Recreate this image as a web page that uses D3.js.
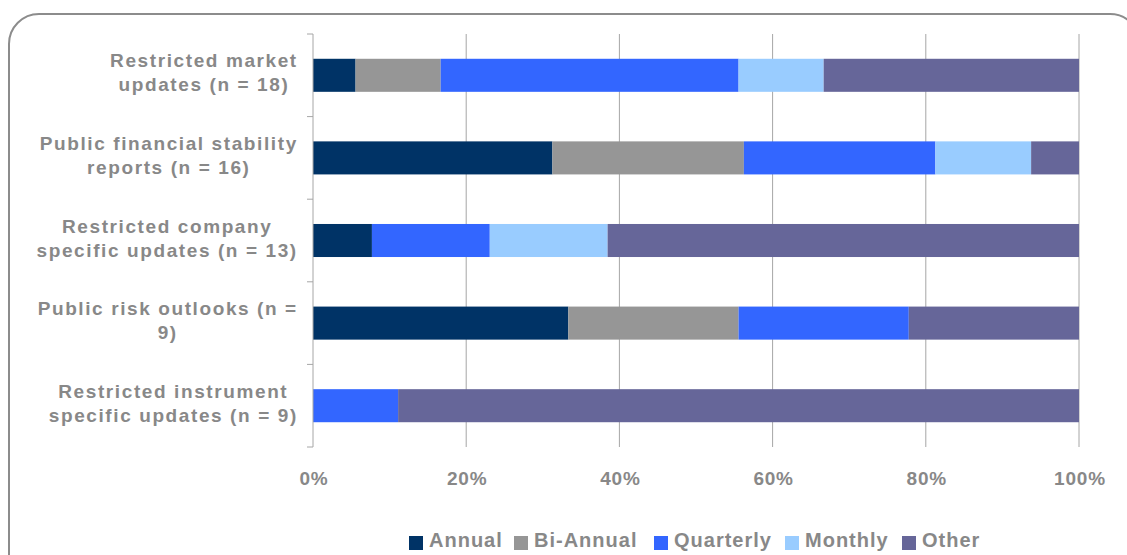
<!DOCTYPE html>
<html>
<head>
<meta charset="utf-8">
<script src="https://cdn.jsdelivr.net/npm/d3@7"></script>
<style>
  body { margin: 0; background: #fff; }
  svg { display: block; font-family: "Liberation Sans", Arial, sans-serif; }
</style>
</head>
<body>
<svg width="1127" height="555"></svg>
<script>
// survey counts per product, by frequency of publication
const categories = [
  ["Restricted market", "updates (n = 18)"],
  ["Public financial stability", "reports (n = 16)"],
  ["Restricted company", "specific updates (n = 13)"],
  ["Public risk outlooks (n =", "9)"],
  ["Restricted instrument", "specific updates (n = 9)"]
]
const series = ["Annual", "Bi-Annual", "Quarterly", "Monthly", "Other"]
const annual = [1, 5, 1, 3, 0]
const biAnnual = [2, 4, 0, 2, 0]
const quarterly = [7, 4, 2, 2, 1]
const monthly = [2, 2, 2, 0, 0]
const other = [6, 1, 8, 2, 8]
const xTicks = [0, 0.2, 0.4, 0.6, 0.8, 1]
const colors = ["#003366", "#969696", "#3366FF", "#99CCFF", "#666699"]

const svg = d3.select("svg")
const margin = { left: 313, right: 48, top: 34, bottom: 108 }
const width = +svg.attr("width")
const height = +svg.attr("height")
const textColor = "#888888"

// outer rounded frame (runs off the right and bottom edges)
svg
  .append("rect")
  .attr("x", 9)
  .attr("y", 14)
  .attr("width", 1131)
  .attr("height", 580)
  .attr("rx", 30)
  .attr("fill", "none")
  .attr("stroke", "#8c8c8c")
  .attr("stroke-width", 2)

const rows = categories.map((c, i) => {
  const vals = [annual[i], biAnnual[i], quarterly[i], monthly[i], other[i]]
  const total = d3.sum(vals)
  const row = { key: i }
  series.forEach((s, j) => (row[s] = vals[j] / total))
  return row
})

const x = d3
  .scaleLinear()
  .domain([0, 1])
  .range([margin.left, width - margin.right])
const y = d3
  .scaleBand()
  .domain(d3.range(categories.length))
  .range([margin.top, height - margin.bottom])
  .paddingInner(0.6)
  .paddingOuter(0.3)

const step = y.step()
const plotTop = margin.top
const plotBottom = height - margin.bottom

// gridlines
svg
  .append("g")
  .selectAll("line")
  .data(xTicks.slice(1))
  .join("line")
  .attr("x1", (d) => x(d))
  .attr("x2", (d) => x(d))
  .attr("y1", plotTop)
  .attr("y2", plotBottom)
  .attr("stroke", "#a6a6a6")
  .attr("stroke-width", 1)

// bars
const stack = d3.stack().keys(series)(rows)
svg
  .append("g")
  .selectAll("g")
  .data(stack)
  .join("g")
  .attr("fill", (d, i) => colors[i])
  .selectAll("rect")
  .data((d) => d)
  .join("rect")
  .attr("x", (d) => x(d[0]))
  .attr("width", (d) => x(d[1]) - x(d[0]))
  .attr("y", (d) => y(d.data.key))
  .attr("height", y.bandwidth())

// category axis line and ticks
const axis = svg.append("g").attr("stroke", "#a6a6a6").attr("stroke-width", 1)
axis
  .append("line")
  .attr("x1", margin.left)
  .attr("x2", margin.left)
  .attr("y1", plotTop)
  .attr("y2", plotBottom)
axis
  .selectAll(".tick")
  .data(d3.range(categories.length + 1))
  .join("line")
  .attr("x1", margin.left - 6)
  .attr("x2", margin.left)
  .attr("y1", (d) => plotTop + d * step)
  .attr("y2", (d) => plotTop + d * step)

// category labels: centred block, right edge just left of the axis
const labelSpacing = 1.6
const labels = svg
  .append("g")
  .attr("fill", textColor)
  .attr("font-size", 19)
  .attr("font-weight", "bold")
  .attr("letter-spacing", labelSpacing)
  .attr("text-anchor", "middle")
  .selectAll("text")
  .data(categories)
  .join("text")
labels
  .selectAll("tspan")
  .data((d) => d)
  .join("tspan")
  .attr("x", 0)
  .attr("y", (d, i) => (i === 0 ? -8 : 16))
  .text((d) => d)
labels.attr("transform", function (d, i) {
  let w = 0
  d3.select(this)
    .selectAll("tspan")
    .each(function () {
      w = Math.max(w, this.getComputedTextLength())
    })
  const cx = 297 - (w - labelSpacing) / 2
  return `translate(${cx},${y(i) + y.bandwidth() / 2})`
})

// x tick labels
svg
  .append("g")
  .attr("fill", textColor)
  .attr("font-size", 19)
  .attr("font-weight", "bold")
  .attr("letter-spacing", 0.8)
  .attr("text-anchor", "middle")
  .selectAll("text")
  .data(xTicks)
  .join("text")
  .attr("x", (d) => x(d) + 1)
  .attr("y", 485)
  .text((d) => d3.format(".0%")(d))

// legend
const legendX = [409, 514, 654, 785, 902]
const legend = svg
  .append("g")
  .selectAll("g")
  .data(series)
  .join("g")
  .attr("transform", (d, i) => `translate(${legendX[i]},536)`)
legend
  .append("rect")
  .attr("width", 14)
  .attr("height", 14)
  .attr("fill", (d, i) => colors[i])
legend
  .append("text")
  .attr("x", 20)
  .attr("y", 11)
  .attr("fill", textColor)
  .attr("font-size", 20)
  .attr("font-weight", "bold")
  .attr("letter-spacing", 1)
  .text((d) => d)
</script>
</body>
</html>
